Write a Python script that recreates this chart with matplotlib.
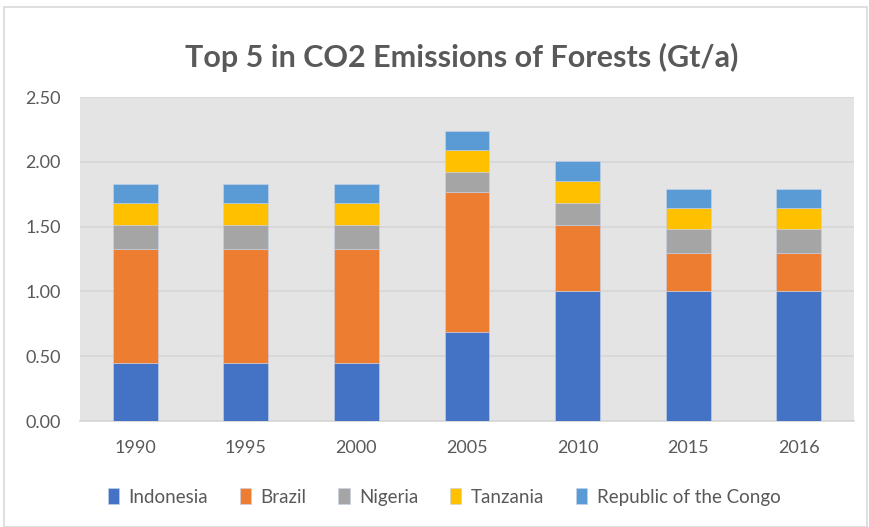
import matplotlib
matplotlib.use("Agg")
import matplotlib.pyplot as plt
import numpy as np
from matplotlib.patches import Rectangle

years = ["1990", "1995", "2000", "2005", "2010", "2015", "2016"]
indonesia = [0.45, 0.45, 0.45, 0.69, 1.00, 1.00, 1.00]
brazil = [0.88, 0.88, 0.88, 1.08, 0.51, 0.30, 0.30]
nigeria = [0.18, 0.18, 0.18, 0.15, 0.17, 0.18, 0.18]
tanzania = [0.17, 0.17, 0.17, 0.17, 0.17, 0.16, 0.16]
congo = [0.15, 0.15, 0.15, 0.15, 0.155, 0.15, 0.15]
series_names = ["Indonesia", "Brazil", "Nigeria", "Tanzania", "Republic of the Congo"]
colors = ["#4472C4", "#ED7D31", "#A5A5A5", "#FFC000", "#5B9BD5"]
yticks = [0.0, 0.5, 1.0, 1.5, 2.0, 2.5]

plt.rcParams['font.family'] = ['Lato', 'DejaVu Sans']
W, H = 869, 527
fig = plt.figure(figsize=(W/100, H/100), dpi=100)
fig.patch.set_facecolor('white')
fig.patches.append(Rectangle((4/W, 0), (W-6)/W, (H-7)/H, transform=fig.transFigure,
                             fill=False, edgecolor='#d9d9d9', linewidth=1.2))

ax = fig.add_axes([80/W, (H-421)/H, 774/W, 324/H])
ax.set_facecolor('#e4e4e4')
x = np.arange(len(years))
bottom = np.zeros(len(years))
for vals, name, c in zip([indonesia, brazil, nigeria, tanzania, congo], series_names, colors):
    ax.bar(x, vals, width=0.405, bottom=bottom, color=c, label=name, zorder=3,
           edgecolor='#c8d3ea', linewidth=0.4)
    bottom += np.array(vals)

ax.set_xlim(-0.5, len(years) - 0.5)
ax.set_ylim(0, 2.5)
ax.set_yticks(yticks)
ax.set_yticklabels([f"{v:.2f}" for v in yticks])
ax.set_xticks(x)
ax.set_xticklabels(years)
ax.yaxis.grid(True, color='#d6d6d6', linewidth=1.2, zorder=0)
ax.set_axisbelow(True)
for s in ['top', 'right', 'left']:
    ax.spines[s].set_visible(False)
ax.spines['bottom'].set_color('#d6d6d6')
ax.spines['bottom'].set_linewidth(1.2)
ax.tick_params(axis='both', length=0, labelsize=13, colors='#595959')
ax.tick_params(axis='y', pad=14)
ax.tick_params(axis='x', pad=14)

fig.text(462/W, 1 - 57/H, "Top 5 in CO2 Emissions of Forests (Gt/a)", ha='center', va='center',
         fontsize=22, fontweight='bold', color='#595959')

handles, labels = ax.get_legend_handles_labels()
leg = fig.legend(handles, labels, loc='center', bbox_to_anchor=(444/W, 1 - 497/H), ncol=5,
                 frameon=False, fontsize=13.5, handlelength=0.6, handleheight=0.9,
                 handletextpad=0.5, columnspacing=1.7, labelcolor='#595959')
fig.savefig("out.png", dpi=100, facecolor='white')
